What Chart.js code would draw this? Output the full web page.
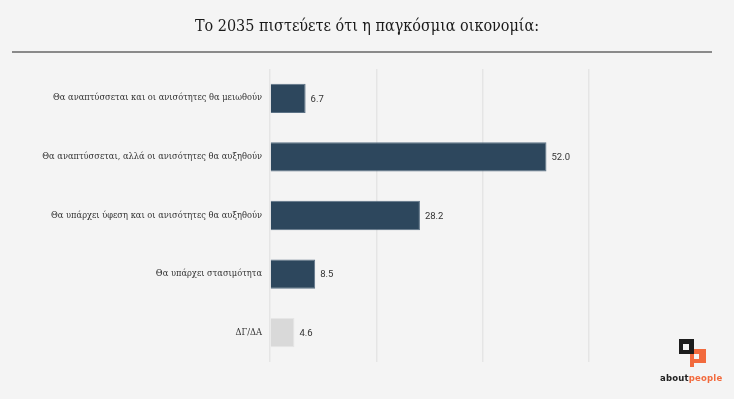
<!DOCTYPE html>
<html>
<head>
<meta charset="utf-8">
<script src="https://cdn.jsdelivr.net/npm/chart.js@4/dist/chart.umd.min.js"></script>
<style>
  html, body { margin: 0; padding: 0; background: #f4f4f4; }
  #wrap { position: relative; width: 734px; height: 399px; }
  #title { position: absolute; left: 0; top: 16px; width: 734px; text-align: center;
    font-family: "DejaVu Serif Condensed", "DejaVu Serif", serif; font-size: 16px; color: #1a1a1a; }
  #rule { position: absolute; left: 12px; top: 51px; width: 700px; height: 2px; background: #8a8a8a; }
  #logo { position: absolute; left: 655px; top: 335px; width: 75px; height: 55px; }
  .org { position: absolute; left: 35px; top: 14px; width: 16px; height: 14px; background: #f26a3d; }
  .org i { position: absolute; left: 4px; top: 5px; width: 5px; height: 5px; background: #f4f4f4; }
  .orgt { position: absolute; left: 35px; top: 28px; width: 4px; height: 4px; background: #f26a3d; }
  .blk { position: absolute; left: 24px; top: 4px; width: 15px; height: 15px; background: #1c1c1c; }
  .blk i { position: absolute; left: 4px; top: 5px; width: 6px; height: 6px; background: #f4f4f4; }
  #logotxt { position: absolute; left: 5px; top: 38px; font-family: "DejaVu Sans", sans-serif;
    font-weight: bold; font-size: 8.5px; letter-spacing: 0.2px; }
  #logotxt .a { color: #222; } #logotxt .p { color: #f26a3d; }
</style>
</head>
<body>
<div id="wrap">
  <canvas id="c" width="734" height="399"></canvas>
  <div id="title">Το 2035 πιστεύετε ότι η παγκόσμια οικονομία:</div>
  <div id="rule"></div>
  <div id="logo">
    <div class="org"><i></i></div><div class="orgt"></div>
    <div class="blk"><i></i></div>
    <div id="logotxt"><span class="a">about</span><span class="p">people</span></div>
  </div>
</div>
<script>
const categories = [
  "Θα αναπτύσσεται και οι ανισότητες θα μειωθούν",
  "Θα αναπτύσσεται, αλλά οι ανισότητες θα αυξηθούν",
  "Θα υπάρχει ύφεση και οι ανισότητες θα αυξηθούν",
  "Θα υπάρχει στασιμότητα",
  "ΔΓ/ΔΑ"
];
const values = [6.7, 52.0, 28.2, 8.5, 4.6];
const barColors = ["#2d475d", "#2d475d", "#2d475d", "#2d475d", "#d9d9d9"];
const borderColors = ["#5b7185", "#5b7185", "#5b7185", "#5b7185", "#e6e6e6"];
const xTicks = [0, 20, 40, 60];

const valueLabels = {
  id: 'valueLabels',
  afterDatasetsDraw(chart) {
    const ctx = chart.ctx;
    const meta = chart.getDatasetMeta(0);
    ctx.save();
    ctx.font = '9.5px Roboto, "Liberation Sans", sans-serif';
    ctx.fillStyle = '#333';
    ctx.textBaseline = 'middle';
    ctx.textAlign = 'left';
    meta.data.forEach((bar, i) => {
      ctx.fillText(values[i].toFixed(1), bar.x + 5, bar.y + 1);
    });
    ctx.restore();
  }
};

new Chart(document.getElementById('c'), {
  type: 'bar',
  data: {
    labels: categories,
    datasets: [{
      data: values,
      backgroundColor: barColors,
      borderColor: borderColors,
      borderWidth: 1,
      categoryPercentage: 1,
      barPercentage: 0.5
    }]
  },
  options: {
    indexAxis: 'y',
    responsive: false,
    animation: false,
    layout: { padding: { top: 69, bottom: 37, left: 0, right: 145 } },
    plugins: { legend: { display: false }, tooltip: { enabled: false } },
    scales: {
      x: {
        min: 0, max: 60,
        afterBuildTicks(axis) { axis.ticks = xTicks.map(v => ({ value: v })); },
        ticks: { display: false },
        grid: { color: '#e5e5e5', lineWidth: 1.5, drawTicks: false },
        border: { display: false }
      },
      y: {
        afterFit(axis) { axis.width = 270; },
        ticks: {
          color: '#333',
          padding: 8,
          font: { family: '"DejaVu Serif", serif', size: 8.3 }
        },
        grid: { display: false, drawTicks: false },
        border: { display: false }
      }
    }
  },
  plugins: [valueLabels]
});
</script>
</body>
</html>
